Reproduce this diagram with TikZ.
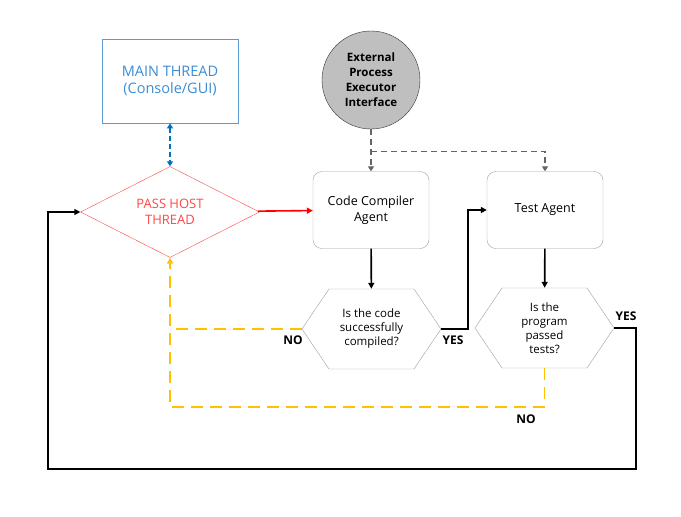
\documentclass[tikz,border=0pt]{standalone}
\usepackage{fontspec}
\setmainfont{Open Sans}
\usepackage{tikz}
\usetikzlibrary{arrows.meta, calc, positioning, shapes.geometric, shapes.symbols}
\definecolor{mainblue}{RGB}{91,155,213}
\definecolor{maintext}{RGB}{60,140,210}
\definecolor{linkblue}{RGB}{0,112,192}
\definecolor{hostred}{RGB}{255,70,70}
\definecolor{boxgray}{RGB}{160,160,160}
\definecolor{circlegray}{RGB}{191,191,191}
\definecolor{execgray}{RGB}{100,100,100}
\definecolor{noorange}{RGB}{255,192,0}
\tikzstyle{mainbox}  = [rectangle,draw=mainblue,thick,text=maintext,align=center,minimum width=136pt,minimum height=84pt,font=\fontsize{14.5}{17}\selectfont]
\tikzstyle{hostdiam} = [diamond,aspect=2,draw=hostred,text=hostred,align=center,minimum width=179pt,minimum height=91pt,inner sep=0pt,font=\fontsize{13}{16}\selectfont]
\tikzstyle{executor} = [circle,draw=black!80,fill=circlegray,align=center,minimum size=98pt,inner sep=0pt,font=\bfseries\fontsize{11.5}{15}\selectfont]
\tikzstyle{agent}    = [rectangle,rounded corners=9pt,draw=boxgray,align=center,minimum width=116pt,minimum height=77pt,font=\fontsize{12.5}{16}\selectfont]
\tikzstyle{check}    = [signal,signal to=west and east,signal pointer angle=112,draw=boxgray,align=center,minimum width=139pt,minimum height=80pt,inner sep=0pt,font=\fontsize{11.5}{14}\selectfont]
\tikzstyle{answer}   = [font=\bfseries\fontsize{12}{14}\selectfont]
\tikzstyle{flow}     = [line width=1.6pt,-{Triangle[length=6pt,width=6pt]}]
\tikzstyle{nopath}   = [line width=1.6pt,noorange,dash pattern=on 12pt off 7pt]
\tikzstyle{execpath} = [line width=1.3pt,execgray,dash pattern=on 6pt off 4pt,-{Triangle[length=5pt,width=6pt]}]

\begin{document}
\begin{tikzpicture}[x=1pt,y=-1pt]
        \useasboundingbox (0,0) rectangle (681,517);

        \node[mainbox]  (main thread) at (170,81)   {MAIN THREAD\\(Console/GUI)};
        \node[hostdiam] (pass host)   at (170,212)  {PASS HOST\\THREAD};
        \node[executor] (executor)    at (371,80)   {External\\Process\\Executor\\Interface};
        \node[agent]    (compiler)    at (371,210)  {Code Compiler\\Agent};
        \node[agent]    (tester)      at (545,210)  {Test Agent};
        \node[check]    (compiled)    at (371.5,329) {Is the code\\successfully\\compiled?};
        \node[check]    (passed)      at (544.5,328) {Is the\\program\\passed\\tests?};

        \coordinate (split)  at ($(executor.south)+(0,22)$);
        \coordinate (yes 1)  at (468,329);
        \coordinate (yes 2)  at (636,328);
        \coordinate (bottom) at (48,469);

        \draw[line width=1.5pt,linkblue,dash pattern=on 5pt off 3pt,{Triangle[length=5pt,width=6pt]}-{Triangle[length=5pt,width=6pt]}] (main thread) -- (pass host);
        \draw[flow,red] (pass host) -- (compiler);
        \draw[execpath] (executor) -- (compiler);
        \draw[execpath] (split) -| (tester);
        \draw[flow] (compiler) -- (compiled);
        \draw[flow] (tester) -- (passed);
        \draw[flow] (compiled.east) -- (yes 1) |- (tester);
        \draw[flow] (passed.east) -- (yes 2) |- (bottom) |- (pass host);

        \draw[nopath] (compiled.west) -- (170,329);
        \draw[nopath,-{Triangle[length=6pt,width=6pt]}] (passed.south) |- (170,407) -- (pass host.south);

        \node[answer] (no 1)  at (293,340) {NO};
        \node[answer] (yes a) at (453,340) {YES};
        \node[answer] (yes b) at (626,316) {YES};
        \node[answer] (no 2)  at (526,419) {NO};
    \end{tikzpicture}
\end{document}
